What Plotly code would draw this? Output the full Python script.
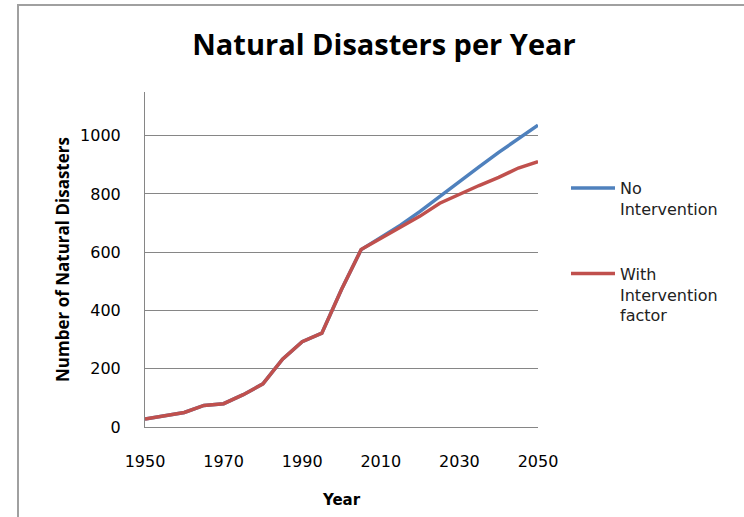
import plotly.graph_objects as go

years = [1950, 1955, 1960, 1965, 1970, 1975, 1980, 1985, 1990, 1995, 2000, 2005,
         2010, 2015, 2020, 2025, 2030, 2035, 2040, 2045, 2050]
no_intervention = [27, 39, 50, 74, 80, 111, 148, 233, 293, 322, 472, 609,
                   650, 693, 740, 792, 843, 893, 943, 991, 1036]
with_intervention = [27, 39, 50, 74, 80, 111, 148, 233, 293, 322, 472, 609,
                     647, 685, 724, 768, 800, 829, 857, 889, 911]
series_names = ["No<br>Intervention", "With<br>Intervention<br>factor"]
x_ticks = [1950, 1970, 1990, 2010, 2030, 2050]
y_ticks = [0, 200, 400, 600, 800, 1000]

W, H = 744, 517
L, R, T, B = 145, 538, 92, 427

fig = go.Figure()
fig.add_trace(go.Scatter(x=years, y=no_intervention, mode="lines", name=series_names[0],
                         line=dict(color="#4F81BD", width=3.5), legendgroup="a"))
fig.add_trace(go.Scatter(x=years, y=with_intervention, mode="lines", name=series_names[1],
                         line=dict(color="#C0504D", width=3.5), legendgroup="b"))

def px(x):
    return (x - L) / (R - L)

def py(y):
    return (B - y) / (B - T)

fig.update_layout(
    width=W, height=H,
    margin=dict(l=L, r=W - R, t=T, b=H - B),
    paper_bgcolor="white", plot_bgcolor="white",
    font=dict(family="DejaVu Sans, Verdana, sans-serif", size=16, color="#000000"),
    title=dict(text="<b>Natural Disasters per Year</b>", x=384 / W, xanchor="center",
               y=1 - 45 / H, yanchor="middle",
               font=dict(family="Open Sans, sans-serif", size=29, color="#000")),
    xaxis=dict(range=[1950, 2050], tickvals=x_ticks, showgrid=False, showline=True,
               linecolor="#868686", linewidth=1, ticks="", zeroline=False,
               ticklabelstandoff=20,
               title=dict(text="<b>Year</b>", standoff=24,
                          font=dict(family="DejaVu Sans, Verdana, sans-serif", size=15))),
    yaxis=dict(range=[0, 1150], tickvals=y_ticks, showgrid=True, gridcolor="#868686",
               gridwidth=1, showline=True, linecolor="#868686", linewidth=1, ticks="",
               zeroline=False, ticklabelstandoff=20,
               title=dict(text="<b>Number of Natural Disasters</b>", standoff=6,
                          font=dict(family="Open Sans, sans-serif", size=17))),
    legend=dict(x=px(566), xanchor="left", y=py(171), yanchor="top", valign="top",
                tracegroupgap=41, itemwidth=44, bgcolor="rgba(0,0,0,0)",
                font=dict(family="DejaVu Sans, Verdana, sans-serif", size=16, color="#222")),
    showlegend=True,
    shapes=[dict(type="rect", xref="paper", yref="paper",
                 x0=px(18), x1=px(760), y0=py(530), y1=py(5),
                 line=dict(color="#A0A0A0", width=2), layer="below")],
)

fig.write_html("out.html")
